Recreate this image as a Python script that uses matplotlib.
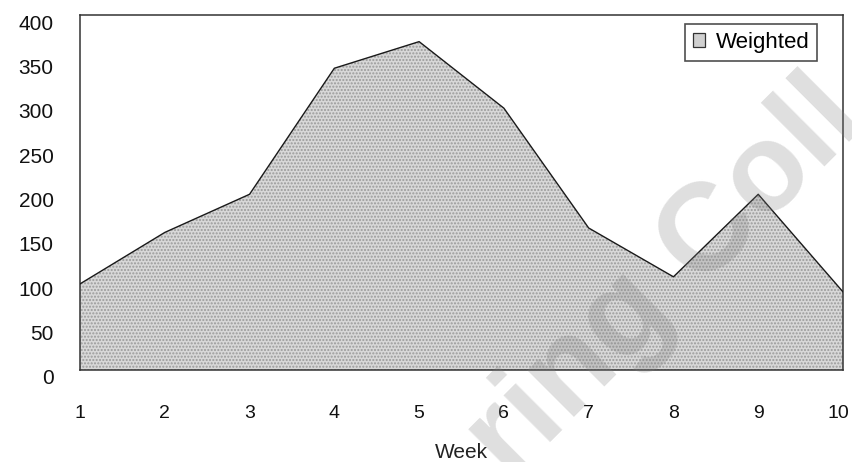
import matplotlib
matplotlib.use("Agg")
import matplotlib.pyplot as plt
from matplotlib.patches import Patch
from matplotlib.transforms import ScaledTranslation

plt.rcParams['font.family'] = ['Liberation Sans', 'DejaVu Sans']

weeks = [1, 2, 3, 4, 5, 6, 7, 8, 9, 10]
weighted = [97, 155, 198, 340, 370, 295, 160, 105, 198, 88]
y_ticks = [0, 50, 100, 150, 200, 250, 300, 350, 400]

fig = plt.figure(figsize=(8.53, 4.62), dpi=100)
ax = fig.add_axes([80 / 853, 1 - 370 / 462, 763 / 853, 355 / 462])

# stippled grey area with a dark outline
ax.fill_between(weeks, weighted, 0, facecolor='#d8d8d8', edgecolor='none', zorder=1)
ax.fill_between(weeks, weighted, 0, facecolor='none', edgecolor='#9a9a9a',
                hatch='.....', linewidth=0, zorder=2)
ax.plot(weeks, weighted, color='#1a1a1a', linewidth=1.0, zorder=3)

ax.set_xlim(1, 10)
ax.set_ylim(0, 400)
ax.set_xticks(weeks)
ax.set_yticks(y_ticks)
ax.tick_params(axis='both', length=0, colors='#111111')
ax.tick_params(axis='x', pad=25, labelsize=14)
ax.tick_params(axis='y', pad=19, labelsize=15)
# y labels sit a little below their gridline positions
shift = ScaledTranslation(0, -7 / 100, fig.dpi_scale_trans)
for lab in ax.get_yticklabels():
    lab.set_transform(lab.get_transform() + shift)
# keep the last week label inside the canvas
last = ax.get_xticklabels()[-1]
last.set_transform(last.get_transform() + ScaledTranslation(-5 / 100, 0, fig.dpi_scale_trans))
for s in ax.spines.values():
    s.set_color('#333333')
    s.set_linewidth(1.1)

ax.set_xlabel('Week', fontsize=15, color='#222222', labelpad=15)

handle = Patch(facecolor='#d0d0d0', edgecolor='#333333', linewidth=0.9)
leg = ax.legend([handle], ['Weighted'], loc='upper right',
                bbox_to_anchor=(817 / 853, 1 - 24 / 462),
                bbox_transform=fig.transFigure,
                fontsize=16, frameon=True, fancybox=False,
                handlelength=0.55, handleheight=0.55, handletextpad=0.45,
                borderpad=0.35, borderaxespad=0)
leg.get_frame().set_edgecolor('#222222')
leg.get_frame().set_linewidth(1.2)

# faint diagonal watermark lettering
fig.text(510 / 853, 1 - 482 / 462, 'ring Coll', fontsize=90, fontweight='bold',
         color='#808080', alpha=0.25, rotation=45, rotation_mode='anchor',
         ha='left', va='baseline', zorder=10)

fig.savefig('out.png', dpi=100)
